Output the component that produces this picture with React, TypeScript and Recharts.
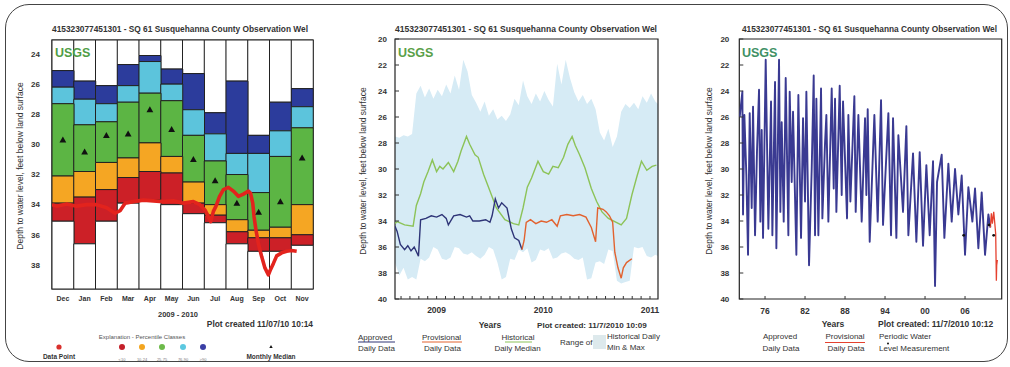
import React from 'react';
import { ComposedChart, Bar, Line, Scatter, Area, XAxis, YAxis, ReferenceArea } from 'recharts';

const FONT = '"Liberation Sans", Arial, sans-serif';
const TITLE = '415323077451301 - SQ 61 Susquehanna County Observation Wel';
const Y_LABEL = 'Depth to water level, feet below land surface';

// ---- panel 1: monthly percentile classes, Dec 2009 - Nov 2010 ----
const MONTHS = ['Dec', 'Jan', 'Feb', 'Mar', 'Apr', 'May', 'Jun', 'Jul', 'Aug', 'Sep', 'Oct', 'Nov'];
const TOP_EDGE = [25.1, 25.8, 26.1, 24.7, 24.1, 25.0, 25.3, 27.9, 25.8, 29.4, 27.2, 26.3];
const P90_EDGE = [26.2, 27.0, 27.3, 26.1, 24.5, 26.0, 27.7, 29.3, 30.6, 30.6, 29.1, 27.5];
const P75_EDGE = [27.3, 28.7, 28.5, 27.2, 26.6, 27.1, 29.4, 31.1, 32.0, 33.2, 30.8, 28.9];
const P25_EDGE = [32.1, 31.8, 31.2, 30.9, 29.9, 30.8, 32.5, 34.0, 35.0, 35.7, 35.5, 34.0];
const P10_EDGE = [33.9, 33.5, 33.0, 32.2, 31.8, 31.9, 33.9, 34.7, 35.8, 36.2, 36.2, 36.0];
const MIN_EDGE = [35.1, 36.6, 35.1, 33.9, 33.7, 34.0, 34.6, 35.2, 36.6, 37.1, 37.1, 36.7];
const MONTH_MEDIAN = [29.7, 30.5, 29.4, 29.3, 27.7, 29.0, 31.0, 32.4, 33.9, 34.5, 33.8, 30.9];
const P1_TICKS = [24, 26, 28, 30, 32, 34, 36, 38];

// daily data points (month index from 1 Dec)
const DAY_M = [0, 0.21, 0.68, 1.13, 1.6, 2.05, 2.51, 2.9, 3.13, 3.36, 3.74, 4.2, 4.66, 5.12, 5.58, 6.04, 6.5, 6.8, 7.03, 7.19, 7.3, 7.42, 7.54, 7.7, 7.88, 8.11, 8.34, 8.57, 8.8, 9.03, 9.13, 9.23, 9.29, 9.38, 9.49, 9.64, 9.79, 9.95, 10.05, 10.18, 10.33, 10.56, 10.79, 11.02, 11.25];
const DAY_D = [34.0, 34.1, 33.95, 34.1, 34.0, 34.0, 34.2, 34.57, 34.4, 33.9, 33.8, 33.7, 33.75, 33.8, 33.75, 33.9, 33.8, 34.0, 34.35, 34.8, 35.13, 34.45, 34.1, 33.47, 33.0, 32.85, 33.1, 33.45, 33.3, 33.1, 33.25, 33.9, 34.8, 35.7, 36.6, 37.45, 38.2, 38.66, 38.3, 37.9, 37.4, 37.2, 37.1, 37.05, 37.1];

// ---- panel 2: 2008-2011 daily hydrograph ----
const BAND_T = [2008.61, 2008.65, 2008.69, 2008.73, 2008.77, 2008.81, 2008.85, 2008.89, 2008.93, 2008.97,
  2009.01, 2009.05, 2009.09, 2009.13, 2009.17, 2009.21, 2009.25, 2009.29, 2009.33, 2009.37,
  2009.41, 2009.45, 2009.49, 2009.53, 2009.57, 2009.61, 2009.65, 2009.69, 2009.73, 2009.77,
  2009.81, 2009.85, 2009.89, 2009.93, 2009.97, 2010.01, 2010.05, 2010.09, 2010.13, 2010.17,
  2010.21, 2010.25, 2010.29, 2010.33, 2010.37, 2010.41, 2010.45, 2010.49, 2010.53, 2010.57,
  2010.61, 2010.65, 2010.69, 2010.73, 2010.77, 2010.81, 2010.85, 2010.89, 2010.93, 2010.97,
  2011.01, 2011.05, 2011.075];
const BAND_SHALLOW = [27.5, 27.6, 27.4, 27.5, 27.3, 24.2, 23.6, 24.5, 23.8, 24.6,
  23.9, 24.4, 23.5, 24.2, 22.8, 23.9, 21.6, 22.5, 24.3, 24.9,
  25.6, 24.8, 25.9, 25.4, 26.2, 25.9, 26.3, 25.8, 24.6, 25.1,
  23.2, 24.4, 25.0, 24.2, 24.8, 24.0, 24.7, 25.2, 21.9, 23.5,
  21.6, 23.0, 24.1, 24.8, 24.3, 25.0, 24.6, 25.4, 27.2, 27.8,
  26.9, 28.3, 27.5, 25.6, 25.0, 25.3, 24.9, 25.4, 24.4, 24.9,
  24.2, 24.8, 25.0];
const BAND_DEEP = [37.2, 38.2, 37.6, 38.5, 38.3, 38.5, 36.9, 37.1, 36.8, 36.0,
  36.2, 36.9, 37.0, 36.8, 36.0, 36.1, 36.5, 36.6, 36.4, 36.7,
  36.9, 36.6, 36.0, 36.2, 37.2, 38.5, 38.3, 36.9, 37.0, 36.2,
  36.4, 36.1, 37.2, 37.0, 36.2, 36.3, 36.1, 36.9, 36.8, 36.5,
  36.4, 36.6, 36.9, 37.0, 36.8, 38.5, 38.4, 37.2, 37.1, 37.3,
  36.2, 36.3, 38.6, 38.8, 38.7, 38.6, 36.0, 36.1, 36.0, 36.7,
  36.8, 36.6, 36.7];
const MED_T = [2008.61, 2008.63, 2008.7, 2008.78, 2008.81, 2008.85, 2008.88, 2008.92, 2008.96, 2009.0, 2009.03, 2009.06, 2009.11, 2009.16, 2009.2, 2009.23, 2009.28, 2009.31, 2009.36, 2009.39, 2009.44, 2009.5, 2009.56, 2009.64, 2009.72, 2009.77, 2009.81, 2009.85, 2009.89, 2009.95, 2010.0, 2010.05, 2010.09, 2010.14, 2010.19, 2010.23, 2010.27, 2010.3, 2010.34, 2010.39, 2010.45, 2010.5, 2010.55, 2010.61, 2010.67, 2010.73, 2010.78, 2010.83, 2010.88, 2010.92, 2010.97, 2011.02, 2011.06];
const MED_D = [34.2, 34.05, 34.3, 34.4, 32.8, 31.9, 31.0, 30.2, 29.3, 30.2, 29.8, 30.0, 29.5, 30.2, 29.4, 28.6, 27.5, 28.1, 28.9, 29.1, 30.4, 31.7, 33.0, 33.9, 34.2, 34.3, 33.0, 31.4, 30.7, 29.4, 30.2, 30.4, 29.8, 29.9, 29.1, 28.1, 27.5, 28.2, 28.9, 29.9, 31.5, 32.5, 33.3, 33.8, 34.05, 34.3, 33.8, 32.0, 30.5, 29.4, 30.1, 29.8, 29.7];
const APP_T = [2008.61, 2008.63, 2008.66, 2008.7, 2008.73, 2008.76, 2008.79, 2008.83, 2008.85, 2008.9, 2008.95, 2009.0, 2009.05, 2009.09, 2009.11, 2009.16, 2009.22, 2009.28, 2009.31, 2009.34, 2009.4, 2009.46, 2009.5, 2009.52, 2009.55, 2009.58, 2009.61, 2009.66, 2009.7, 2009.73, 2009.77, 2009.8];
const APP_D = [34.4, 34.8, 35.8, 36.2, 35.9, 36.3, 36.0, 36.7, 33.9, 33.8, 33.6, 33.7, 33.5, 33.8, 34.3, 33.6, 33.5, 33.7, 33.6, 34.0, 34.0, 33.9, 34.1, 33.6, 32.3, 33.0, 32.6, 33.0, 34.6, 35.3, 35.5, 36.2];
const PROV_T = [2009.8, 2009.82, 2009.84, 2009.88, 2009.93, 2009.98, 2010.03, 2010.08, 2010.13, 2010.16, 2010.22, 2010.28, 2010.34, 2010.4, 2010.45, 2010.49, 2010.51, 2010.56, 2010.59, 2010.62, 2010.65, 2010.67, 2010.7, 2010.73, 2010.75, 2010.78, 2010.83];
const PROV_D = [36.2, 35.5, 34.1, 33.9, 34.2, 34.0, 34.1, 33.9, 34.4, 33.6, 33.5, 33.6, 33.5, 33.7, 34.5, 35.6, 33.0, 33.1, 33.3, 33.6, 34.1, 36.4, 37.6, 38.4, 37.6, 37.2, 36.9];
const P2_YEARS = [2009, 2010, 2011];

// ---- panel 3: period of record ----
const REC_T = [1972.2, 1972.6, 1972.7, 1972.9, 1973.2, 1973.45, 1973.7, 1974.0, 1974.2, 1974.5,
  1974.8, 1975.1, 1975.3, 1975.5, 1975.7, 1976.1, 1976.5, 1976.9, 1977.1, 1977.5,
  1977.7, 1978.1, 1978.3, 1978.5, 1978.8, 1979.1, 1979.5, 1979.7, 1980.0, 1980.2,
  1980.7, 1981.0, 1981.4, 1981.7, 1982.0, 1982.2, 1982.6, 1983.0, 1983.3, 1983.5,
  1983.7, 1984.0, 1984.4, 1984.6, 1985.0, 1985.2, 1985.5, 1986.0, 1986.3, 1986.5,
  1986.7, 1987.2, 1987.5, 1987.7, 1988.3, 1988.5, 1988.8, 1989.4, 1989.6, 1990.0,
  1990.5, 1991.0, 1991.2, 1991.4, 1991.7, 1992.4, 1992.9, 1993.4, 1993.7, 1994.5,
  1994.9, 1995.2, 1995.7, 1996.0, 1996.7, 1997.2, 1997.5, 1998.2, 1998.7, 1999.2,
  1999.7, 2000.2, 2000.7, 2001.2, 2001.5, 2001.8, 2002.5, 2002.9, 2003.5, 2004.0,
  2004.5, 2005.0, 2005.5, 2006.0, 2006.5, 2007.1, 2007.5, 2008.0, 2008.5, 2009.0,
  2009.5, 2009.8];
const REC_D = [26.0, 24.05, 33.5, 25.85, 30.5, 36.6, 25.7, 33.0, 25.2, 35.1,
  28.5, 23.9, 34.05, 27.0, 35.3, 21.6, 34.6, 24.8, 35.1, 23.3,
  36.1, 21.6, 33.3, 26.4, 34.05, 23.0, 35.1, 24.05, 31.0, 25.6,
  36.6, 24.3, 35.3, 26.1, 32.5, 24.05, 37.4, 30.0, 22.8, 35.1,
  24.6, 35.1, 23.8, 33.8, 28.0, 25.85, 34.05, 23.8, 31.5, 24.6,
  33.3, 23.6, 32.0, 24.8, 33.8, 25.85, 32.5, 24.4, 33.3, 25.85,
  34.05, 26.1, 32.0, 25.4, 35.6, 25.85, 34.05, 24.7, 34.3, 25.7,
  35.1, 26.1, 35.3, 27.4, 33.3, 26.7, 35.1, 28.8, 35.6, 28.7,
  35.9, 29.7, 35.1, 29.4, 39.0, 31.0, 28.9, 35.3, 29.6, 34.05,
  30.0, 33.5, 30.5, 36.6, 31.4, 34.05, 31.5, 36.1, 31.8, 36.6,
  33.5, 34.5];
const REC_PROV_T = [2009.8, 2009.95, 2010.1, 2010.3, 2010.45, 2010.6, 2010.7, 2010.75, 2010.85];
const REC_PROV_D = [34.5, 33.4, 34.2, 33.3, 34.1, 35.0, 38.6, 37.4, 37.0];
const PERIODIC_T = [2005.8, 2009.6, 2010.3];
const PERIODIC_D = [35.1, 34.3, 35.1];
const P3_YEARS = [1976, 1982, 1988, 1994, 2000, 2006];

const DEPTH_TICKS = [20, 22, 24, 26, 28, 30, 32, 34, 36, 38, 40];

const SEGMENTS = [
  { key: 'above', color: '#ffffff' },
  { key: 'p90', color: '#2c3c9c' },
  { key: 'p76', color: '#5cc4dc' },
  { key: 'p25', color: '#5cb544' },
  { key: 'p10', color: '#f5a623' },
  { key: 'p0', color: '#cc2027' },
  { key: 'below', color: '#ffffff' },
];

const monthRows = MONTHS.map((month, i) => ({
  month,
  above: TOP_EDGE[i],
  p90: P90_EDGE[i] - TOP_EDGE[i],
  p76: P75_EDGE[i] - P90_EDGE[i],
  p25: P25_EDGE[i] - P75_EDGE[i],
  p10: P10_EDGE[i] - P25_EDGE[i],
  p0: MIN_EDGE[i] - P10_EDGE[i],
  below: 41 - MIN_EDGE[i],
}));
const dayRows = DAY_M.map((m, i) => ({ m, d: DAY_D[i] }));
const medianRows = MONTH_MEDIAN.map((d, i) => ({ m: i + 0.5, d }));

const bandRows = BAND_T.map((t, i) => ({ t, range: [BAND_SHALLOW[i], BAND_DEEP[i]] }));
const medRows = MED_T.map((t, i) => ({ t, v: MED_D[i] }));
const appRows = APP_T.map((t, i) => ({ t, v: APP_D[i] }));
const provRows = PROV_T.map((t, i) => ({ t, v: PROV_D[i] }));

const recRows = REC_T.map((t, i) => ({ t, v: REC_D[i] }));
const recProvRows = REC_PROV_T.map((t, i) => ({ t, v: REC_PROV_D[i] }));
const periodicRows = PERIODIC_T.map((t, i) => ({ t, v: PERIODIC_D[i] }));

const monthTicks: number[] = [];
for (let y = 2008; y <= 2011; y++) {
  for (let m = 0; m < 12; m++) {
    const v = y + m / 12;
    if (v > 2008.62 && v < 2011.07) monthTicks.push(v);
  }
}

const tickFont = (size: number) => ({ fontSize: size, fontWeight: 700, fill: '#333', fontFamily: FONT });
const blank = () => '';

const Triangle = (props: any) => {
  const { cx, cy } = props;
  return <polygon points={`${cx},${cy - 3.4} ${cx - 3.4},${cy + 2.6} ${cx + 3.4},${cy + 2.6}`} fill="#111" />;
};
const Dot = (props: any) => <circle cx={props.cx} cy={props.cy} r={1.4} fill="#111" />;

function MonthlyPanel() {
  return (
    <ComposedChart width={340} height={367} data={monthRows} margin={{ top: 40, right: 27, bottom: 48, left: 22 }} barCategoryGap={0} barGap={0}>
      <XAxis xAxisId="cat" dataKey="month" type="category" interval={0} tickLine={false} axisLine={false} tickSize={0} tickMargin={7} height={30} tick={tickFont(7)} />
      <XAxis xAxisId="num" dataKey="m" type="number" domain={[0, 12]} allowDataOverflow hide />
      <YAxis dataKey="d" type="number" domain={[23.07, 39.6]} reversed allowDataOverflow ticks={P1_TICKS} interval={0} tickLine={false} axisLine={false} tickSize={0} tickMargin={12} width={30} tick={tickFont(8)} />
      {SEGMENTS.map((s) => (
        <Bar key={s.key} xAxisId="cat" dataKey={s.key} stackId="pct" fill={s.color} stroke="#222" strokeWidth={1} isAnimationActive={false} />
      ))}
      <Line xAxisId="num" data={dayRows} dataKey="d" type="linear" stroke="#e3231d" strokeWidth={3.6} strokeLinejoin="round" dot={false} isAnimationActive={false} />
      <Scatter xAxisId="num" data={medianRows} dataKey="d" shape={Triangle} isAnimationActive={false} />
      <ReferenceArea xAxisId="num" x1={0} x2={12} y1={23.07} y2={39.6} fill="none" fillOpacity={0} stroke="#222" strokeWidth={1.3} ifOverflow="visible" />
    </ComposedChart>
  );
}

function RecentPanel() {
  return (
    <ComposedChart width={340} height={367} margin={{ top: 39, right: 22, bottom: 38, left: 0 }}>
      <XAxis dataKey="t" type="number" domain={[2008.61, 2011.075]} allowDataOverflow ticks={monthTicks} interval={0}
        tickFormatter={(v: number) => (P2_YEARS.includes(v) ? String(v) : '')} tickSize={-3} tickMargin={11} axisLine={false}
        tickLine={{ stroke: '#333' }} height={30} tick={tickFont(8.5)} />
      <XAxis xAxisId="top" dataKey="t" orientation="top" type="number" domain={[2008.61, 2011.075]} allowDataOverflow ticks={monthTicks} interval={0}
        tickFormatter={blank} tickSize={-3} axisLine={false} tickLine={{ stroke: '#333' }} height={0} />
      <YAxis type="number" domain={[20, 40]} reversed allowDataOverflow ticks={DEPTH_TICKS} interval={0} tickSize={-4} tickMargin={12}
        axisLine={false} tickLine={{ stroke: '#333' }} width={55} tick={tickFont(8)} />
      <YAxis yAxisId="r" orientation="right" type="number" domain={[20, 40]} reversed allowDataOverflow ticks={DEPTH_TICKS} interval={0}
        tickFormatter={blank} tickSize={-4} axisLine={false} tickLine={{ stroke: '#333' }} width={0} />
      <Area data={bandRows} dataKey="range" type="linear" fill="#d6ebf5" fillOpacity={1} stroke="none" isAnimationActive={false} />
      <Line data={medRows} dataKey="v" type="linear" stroke="#8cc358" strokeWidth={1.4} dot={false} isAnimationActive={false} />
      <Line data={appRows} dataKey="v" type="linear" stroke="#2e3477" strokeWidth={1.4} dot={false} isAnimationActive={false} />
      <Line data={provRows} dataKey="v" type="linear" stroke="#e2622f" strokeWidth={1.4} dot={false} isAnimationActive={false} />
      <ReferenceArea x1={2008.61} x2={2011.075} y1={20} y2={40} fill="none" fillOpacity={0} stroke="#222" strokeWidth={1.2} ifOverflow="visible" />
    </ComposedChart>
  );
}

function RecordPanel() {
  return (
    <ComposedChart width={330} height={367} margin={{ top: 39, right: 8.3, bottom: 38, left: 0.3 }}>
      <XAxis dataKey="t" type="number" domain={[1972.14, 2011.5]} allowDataOverflow ticks={P3_YEARS} interval={0}
        tickFormatter={(v: number) => String(v).slice(2)} tickSize={-3} tickMargin={11.5} axisLine={false}
        tickLine={{ stroke: '#333' }} height={30} tick={tickFont(8.5)} />
      <XAxis xAxisId="top" dataKey="t" orientation="top" type="number" domain={[1972.14, 2011.5]} allowDataOverflow ticks={P3_YEARS} interval={0}
        tickFormatter={blank} tickSize={-3} axisLine={false} tickLine={{ stroke: '#333' }} height={0} />
      <YAxis type="number" dataKey="v" domain={[20, 40]} reversed allowDataOverflow ticks={DEPTH_TICKS} interval={0} tickSize={-4} tickMargin={14}
        axisLine={false} tickLine={{ stroke: '#333' }} width={59} tick={tickFont(8)} />
      <YAxis yAxisId="r" orientation="right" type="number" domain={[20, 40]} reversed allowDataOverflow ticks={DEPTH_TICKS} interval={0}
        tickFormatter={blank} tickSize={-4} axisLine={false} tickLine={{ stroke: '#333' }} width={0} />
      <Line data={recRows} dataKey="v" type="linear" stroke="#3a3a92" strokeWidth={1.9} strokeLinejoin="round" dot={false} isAnimationActive={false} />
      <Line data={recProvRows} dataKey="v" type="linear" stroke="#e5412f" strokeWidth={1.3} dot={false} isAnimationActive={false} />
      <Scatter data={periodicRows} dataKey="v" shape={Dot} isAnimationActive={false} />
      <ReferenceArea x1={1972.14} x2={2011.5} y1={20} y2={40} fill="none" fillOpacity={0} stroke="#222" strokeWidth={1.2} ifOverflow="visible" />
    </ComposedChart>
  );
}

const PCT_DOTS = [
  { x: 122, color: '#c4202a', label: '<10' },
  { x: 142, color: '#f3a51f', label: '10-24' },
  { x: 162, color: '#6dba4a', label: '25-75' },
  { x: 183, color: '#5cc8e0', label: '76-90' },
  { x: 203, color: '#3b3fa5', label: '>90' },
];

function Overlay() {
  const t = { fontFamily: FONT, fill: '#333' };
  const usgs = { fontFamily: FONT, fontSize: 12.5, fontWeight: 700 };
  return (
    <svg width={1010} height={367} style={{ position: 'absolute', left: 0, top: 0, pointerEvents: 'none' }}>
      {/* titles */}
      <text {...t} x={52} y={32} fontSize={8.3} fontWeight={700} textLength={256} lengthAdjust="spacingAndGlyphs">{TITLE}</text>
      <text {...t} x={395} y={32} fontSize={8.3} fontWeight={700} textLength={262} lengthAdjust="spacingAndGlyphs">{TITLE}</text>
      <text {...t} x={742} y={32} fontSize={8.3} fontWeight={700} textLength={255} lengthAdjust="spacingAndGlyphs">{TITLE}</text>
      <text {...usgs} x={55} y={56.5} fill="#4f9d45">USGS</text>
      <text {...usgs} x={398} y={56.5} fill="#5aa048">USGS</text>
      <text {...usgs} x={742} y={56.5} fill="#3f9165">USGS</text>
      {/* y axis labels */}
      {[[23, 166], [365.5, 171], [712, 171]].map(([x, y]) => (
        <text key={x} {...t} fontSize={8.5} textAnchor="middle" transform={`translate(${x},${y}) rotate(-90)`}>{Y_LABEL}</text>
      ))}

      {/* panel 1 footer */}
      <text {...t} x={178} y={316.5} fontSize={7.5} fontWeight={700} textAnchor="middle">2009 - 2010</text>
      <text {...t} x={313} y={327} fontSize={8.4} fontWeight={700} textAnchor="end">Plot created 11/07/10 10:14</text>
      <text {...t} x={142} y={339} fontSize={6} textAnchor="middle" fill="#555">Explanation - Percentile Classes</text>
      <circle cx={59} cy={347} r={2.6} fill="#d9302c" />
      <text {...t} x={59} y={358.5} fontSize={6.5} fontWeight={700} textAnchor="middle">Data Point</text>
      {PCT_DOTS.map((p) => (
        <g key={p.label}>
          <circle cx={p.x} cy={347} r={3} fill={p.color} />
          <text {...t} x={p.x} y={361} fontSize={4} textAnchor="middle" fill="#777">{p.label}</text>
        </g>
      ))}
      <polygon points="271,345 269.3,348 272.7,348" fill="#111" />
      <text {...t} x={271} y={358.5} fontSize={6.5} fontWeight={700} textAnchor="middle">Monthly Median</text>

      {/* panel 2 footer */}
      <text {...t} x={490} y={328} fontSize={8.5} fontWeight={700} textAnchor="middle">Years</text>
      <text {...t} x={537} y={328} fontSize={8.1} fontWeight={700}>Plot created: 11/7/2010 10:09</text>
      <text {...t} x={358} y={339.5} fontSize={8}>Approved</text>
      <line x1={358} x2={395} y1={342} y2={342} stroke="#2e3477" strokeWidth={1} />
      <text {...t} x={358} y={351} fontSize={8}>Daily Data</text>
      <text {...t} x={422} y={339.5} fontSize={8}>Provisional</text>
      <line x1={422} x2={462} y1={342} y2={342} stroke="#e2622f" strokeWidth={1} />
      <text {...t} x={424} y={351} fontSize={8}>Daily Data</text>
      <text {...t} x={518} y={339.5} fontSize={8} textAnchor="middle">Historical</text>
      <line x1={505} x2={532} y1={342} y2={342} stroke="#8cc358" strokeWidth={1} />
      <text {...t} x={517.5} y={351} fontSize={8} textAnchor="middle">Daily Median</text>
      <text {...t} x={560} y={345} fontSize={8}>Range of</text>
      <rect x={593} y={335} width={13} height={14} fill="#dde9ec" />
      <text {...t} x={607} y={338.5} fontSize={8}>Historical Daily</text>
      <text {...t} x={607} y={350} fontSize={8}>Min &amp; Max</text>

      {/* panel 3 footer */}
      <text {...t} x={833} y={327} fontSize={8.5} fontWeight={700} textAnchor="middle">Years</text>
      <text {...t} x={878} y={327} fontSize={8.5} fontWeight={700}>Plot created: 11/7/2010 10:12</text>
      <text {...t} x={780} y={339} fontSize={8} textAnchor="middle">Approved</text>
      <text {...t} x={781} y={351} fontSize={8} textAnchor="middle">Daily Data</text>
      <text {...t} x={845} y={339} fontSize={8} textAnchor="middle">Provisional</text>
      <line x1={825} x2={865} y1={342.5} y2={342.5} stroke="#e5412f" strokeWidth={1} />
      <text {...t} x={846} y={351} fontSize={8} textAnchor="middle">Daily Data</text>
      <text {...t} x={879} y={339} fontSize={8}>Periodic Water</text>
      <circle cx={888} cy={343.5} r={1} fill="#111" />
      <text {...t} x={879} y={351} fontSize={8}>Level Measurement</text>
    </svg>
  );
}

export default function App() {
  return (
    <div style={{ position: 'absolute', left: 0, top: 0, width: 1010, height: 367, background: '#fff', overflow: 'hidden', fontFamily: FONT }}>
      <div style={{ position: 'absolute', left: 5, top: 4, width: 1003, height: 358, border: '1px solid #444', borderRadius: 24, boxSizing: 'border-box' }} />
      <div style={{ position: 'absolute', left: 0, top: 0 }}><MonthlyPanel /></div>
      <div style={{ position: 'absolute', left: 340, top: 0 }}><RecentPanel /></div>
      <div style={{ position: 'absolute', left: 680, top: 0 }}><RecordPanel /></div>
      <Overlay />
    </div>
  );
}
